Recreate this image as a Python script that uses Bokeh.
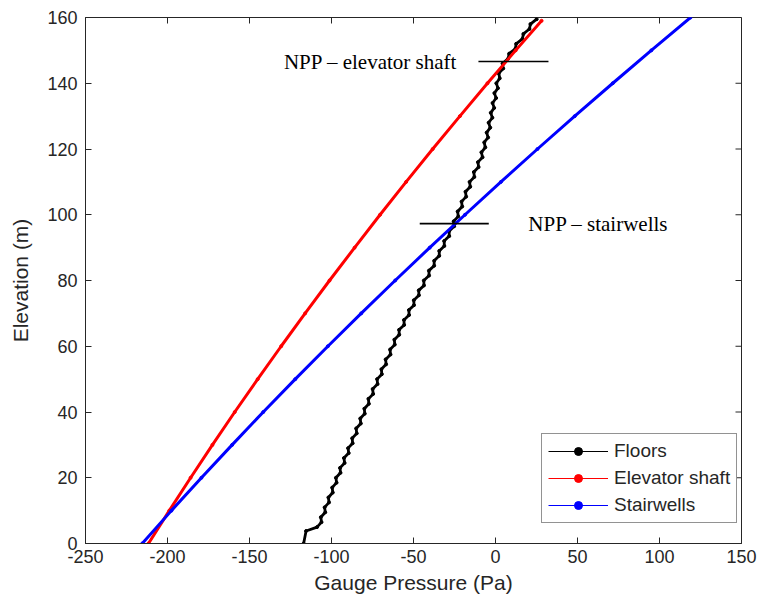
from bokeh.plotting import figure
from bokeh.models import Range1d, FixedTicker, Legend, LegendItem
from bokeh.core.properties import value
from bokeh.embed import file_html
from bokeh.resources import INLINE

# ---- data ----
floors_elev = [0.0, 3.8, 5.0, 6.5, 8.0, 9.5, 11.0, 12.5, 14.0, 15.5, 17.0, 18.5, 20.0,
               21.5, 23.0, 24.5, 26.0, 27.5, 29.0, 30.5, 32.0, 33.5, 35.0, 36.5, 38.0,
               39.5, 41.0, 42.5, 44.0, 45.5, 47.0, 48.5, 50.0, 51.5, 53.0, 54.5, 56.0,
               57.5, 59.0, 60.5, 62.0, 63.5, 65.0, 66.5, 68.0, 69.5, 71.0, 72.5, 74.0,
               75.5, 77.0, 78.5, 80.0, 81.5, 83.0, 84.5, 86.0, 87.5, 89.0, 90.5, 92.0,
               93.5, 95.0, 96.5, 98.0, 99.5, 101.0, 102.5, 104.0, 105.5, 107.0, 108.5,
               110.0, 111.5, 113.0, 114.5, 116.0, 117.5, 119.0, 120.5, 122.0, 123.5,
               125.0, 126.5, 128.0, 129.5, 131.0, 132.5, 134.0, 135.5, 137.0, 138.5,
               140.0, 141.5, 143.0, 144.5, 146.0, 147.5, 149.0, 150.5, 152.0, 153.5,
               155.0, 156.5, 158.0, 159.5]
floors_pa = [-117.0, -115.5, -108.8, -106.1, -106.5, -103.8, -104.2, -101.5, -101.9, -99.2,
             -99.6, -96.9, -97.3, -94.5, -94.8, -92.0, -92.4, -89.5, -89.9, -87.1, -87.4,
             -84.6, -85.0, -82.1, -82.5, -79.7, -80.0, -77.2, -77.5, -74.6, -74.9, -71.9,
             -72.2, -69.3, -69.6, -66.7, -67.0, -64.0, -64.3, -61.4, -61.7, -58.7, -58.8,
             -55.7, -55.8, -52.7, -52.8, -49.7, -49.8, -46.7, -46.8, -43.6, -43.7, -40.5,
             -40.6, -37.4, -37.4, -34.3, -34.3, -31.2, -31.3, -28.2, -28.3, -25.2, -25.5,
             -22.7, -23.1, -20.3, -20.7, -17.9, -18.3, -15.4, -15.8, -12.9, -13.2, -10.3,
             -10.7, -7.9, -8.6, -6.2, -6.9, -4.5, -5.4, -3.2, -4.2, -1.9, -2.9, -0.8,
             -1.8, 0.4, -0.7, 1.5, 0.5, 2.6, 2.0, 4.7, 4.3, 7.7, 8.3, 12.1, 12.6, 16.4,
             17.0, 20.7, 21.3, 25.1]

shaft_elev = [0, 10, 20, 30, 40, 50, 60, 70, 80, 90, 100, 110, 120, 130, 140, 150, 159]
shaft_pa = [-211.6, -198.9, -185.9, -172.6, -159.0, -145.0, -130.7, -116.1, -101.2,
            -85.9, -70.4, -54.5, -38.3, -21.7, -4.9, 12.3, 28.1]

stair_elev = [0, 10, 20, 30, 40, 50, 60, 70, 80, 90, 100, 110, 120, 130, 140, 150, 160]
stair_pa = [-215.4, -197.6, -179.3, -160.6, -141.6, -122.1, -102.2, -81.9, -61.2, -40.1,
            -18.6, 3.3, 25.6, 48.3, 71.5, 95.0, 118.9]

series_names = ["Floors", "Elevator shaft", "Stairwells"]

npp_labels = ["NPP \u2013 elevator shaft", "NPP \u2013 stairwells"]
npp_elev = [146.6, 97.3]
npp_x0 = [-10.4, -46.2]
npp_x1 = [32.3, -4.1]
npp_text_x = [-129.0, 20.0]

x_ticks = [-250, -200, -150, -100, -50, 0, 50, 100, 150]
y_ticks = [0, 20, 40, 60, 80, 100, 120, 140, 160]
x_min, x_max = -250, 150
y_min, y_max = 0, 160

# ---- figure ----
AX = "#262626"
FRAME_W, FRAME_H = 656, 526
TICK_PX = 6
p = figure(width=771, height=609, output_backend="svg", toolbar_location=None,
           x_range=Range1d(x_min, x_max), y_range=Range1d(y_min, y_max),
           min_border_left=85, min_border_right=30, min_border_top=17, min_border_bottom=66)
p.grid.visible = False
p.outline_line_color = AX
p.outline_line_width = 1
p.background_fill_color = "white"
p.border_fill_color = "white"

for ax, ticks in ((p.xaxis[0], x_ticks), (p.yaxis[0], y_ticks)):
    ax.ticker = FixedTicker(ticks=ticks)
    ax.major_label_overrides = {t: str(t) for t in ticks}
    ax.major_tick_in = TICK_PX
    ax.major_tick_out = 0
    ax.minor_tick_line_color = None
    ax.axis_line_color = AX
    ax.major_tick_line_color = AX
    ax.major_label_text_font = "Liberation Sans"
    ax.major_label_text_font_size = "18px"
    ax.major_label_text_color = AX
    ax.axis_label_text_font = "Liberation Sans"
    ax.axis_label_text_font_size = "21px"
    ax.axis_label_text_font_style = "normal"
    ax.axis_label_text_color = AX

p.xaxis[0].axis_label = "Gauge Pressure (Pa)"
p.yaxis[0].axis_label = "Elevation (m)"
p.xaxis[0].major_label_standoff = 6
p.yaxis[0].major_label_standoff = 8
p.xaxis[0].axis_label_standoff = 5
p.yaxis[0].axis_label_standoff = 12

# inward ticks on the top and right edges of the box
dy = TICK_PX * (y_max - y_min) / FRAME_H
dx = TICK_PX * (x_max - x_min) / FRAME_W
p.segment(x0=x_ticks, y0=[y_max] * len(x_ticks), x1=x_ticks, y1=[y_max - dy] * len(x_ticks),
          line_color=AX, line_width=1)
p.segment(x0=[x_max] * len(y_ticks), y0=y_ticks, x1=[x_max - dx] * len(y_ticks), y1=y_ticks,
          line_color=AX, line_width=1)

# series: thin line (legend glyph, hidden under the thick one), thick line, small dots
items = []
for name, xs, ys, c, w in ((series_names[0], floors_pa, floors_elev, "black", 2.8),
                           (series_names[1], shaft_pa, shaft_elev, "#ff0000", 3),
                           (series_names[2], stair_pa, stair_elev, "#0000ff", 3)):
    thin = p.line(xs, ys, line_color=c, line_width=1)
    p.line(xs, ys, line_color=c, line_width=w)
    dots = p.scatter(xs, ys, marker="circle", size=3, color=c)
    items.append(LegendItem(label=name, renderers=[thin, dots]))

# NPP annotations
p.segment(x0=npp_x0, y0=npp_elev, x1=npp_x1, y1=npp_elev, line_color="black", line_width=1.6)
p.text(x=npp_text_x, y=npp_elev, text=npp_labels, text_font=value("Liberation Serif"),
       text_font_size="21px", text_baseline="middle", text_align="left", text_color="black")

legend = Legend(items=items, location=(456, 20))
legend.label_text_font = "Liberation Sans"
legend.label_text_font_size = "19px"
legend.label_text_color = AX
legend.glyph_width = 60
legend.glyph_height = 20
legend.label_height = 20
legend.spacing = 5
legend.padding = 6
legend.margin = 0
legend.label_standoff = 6
legend.border_line_color = AX
legend.border_line_width = 1
legend.background_fill_alpha = 1
p.add_layout(legend, "center")

open("out.html", "w").write(file_html(p, INLINE))
